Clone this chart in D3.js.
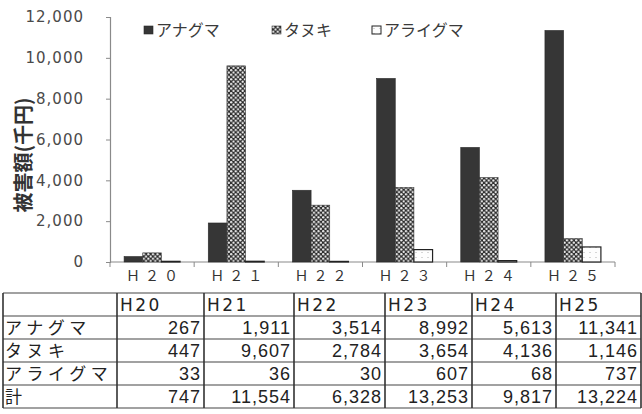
<!DOCTYPE html>
<html>
<head>
<meta charset="utf-8">
<script src="https://cdn.jsdelivr.net/npm/d3@7"></script>
<style>
  html, body { margin: 0; padding: 0; background: #fff; }
  svg { display: block; }
</style>
</head>
<body>
<svg id="chart" width="642" height="414"></svg>
<script>
// 年度
const categories = ["H20", "H21", "H22", "H23", "H24", "H25"];
// 被害額（千円）
const series = ["アナグマ", "タヌキ", "アライグマ"];
const anaguma = [267, 1911, 3514, 8992, 5613, 11341];
const tanuki = [447, 9607, 2784, 3654, 4136, 1146];
const araiguma = [33, 36, 30, 607, 68, 737];
const totals = [747, 11554, 6328, 13253, 9817, 13224];
const yTicks = [0, 2000, 4000, 6000, 8000, 10000, 12000];
const yTitle = "被害額(千円)";
const totalLabel = "計";

const values = [anaguma, tanuki, araiguma];

const svg = d3.select("#chart");
const defs = svg.append("defs");

// タヌキ: 黒地に白い丸の格子模様
const pTan = defs.append("pattern")
  .attr("id", "pat-tanuki").attr("patternUnits", "userSpaceOnUse")
  .attr("width", 4.6).attr("height", 4.6);
pTan.append("rect").attr("width", 4.6).attr("height", 4.6).attr("fill", "#2a2a2a");
[[1.15, 1.15], [3.45, 3.45]].forEach(([cx, cy]) =>
  pTan.append("circle").attr("cx", cx).attr("cy", cy).attr("r", 1.15).attr("fill", "#f4f4f4"));

// アライグマ: 白地に淡い細点
const pAra = defs.append("pattern")
  .attr("id", "pat-araiguma").attr("patternUnits", "userSpaceOnUse")
  .attr("width", 6).attr("height", 5);
pAra.append("rect").attr("width", 6).attr("height", 5).attr("fill", "#fdfdfd");
pAra.append("rect").attr("x", 1).attr("y", 2).attr("width", 2).attr("height", 1).attr("fill", "#d6d6d6");

const fills = ["#363636", "url(#pat-tanuki)", "url(#pat-araiguma)"];
const strokes = ["#2a2a2a", "#3a3a3a", "#222"];

// 作図領域
const x0 = 110, x1 = 615, yTop = 17, yBot = 262;

const x = d3.scaleBand().domain(categories).range([x0, x1])
  .paddingInner(0.335).paddingOuter(0.1675);
const xs = d3.scaleBand().domain(series).range([0, x.bandwidth()]);
const y = d3.scaleLinear().domain([0, 12000]).range([yBot, yTop]);

// 縦軸
const yAxis = d3.axisLeft(y).tickValues(yTicks).tickSize(4).tickPadding(22)
  .tickFormat(d3.format(","));
const gy = svg.append("g").attr("transform", `translate(${x0},0)`).call(yAxis);
gy.select(".domain").attr("stroke", "#8a8a8a").attr("stroke-width", 1.2);
gy.selectAll(".tick line").attr("stroke", "#8a8a8a");
gy.selectAll(".tick text")
  .attr("font-family", "'DejaVu Sans', sans-serif")
  .attr("font-size", 15).attr("letter-spacing", 1)
  .attr("fill", "#4a4a4a");

// 横軸（区切り目盛り）
const bounds = categories.map(c => x(c) - x.step() * x.paddingOuter()).concat([x1]);
svg.append("line").attr("x1", x0).attr("x2", x1).attr("y1", yBot).attr("y2", yBot)
  .attr("stroke", "#8a8a8a").attr("stroke-width", 1.2);
svg.append("g").selectAll("line").data(bounds).join("line")
  .attr("x1", d => d).attr("x2", d => d).attr("y1", yBot).attr("y2", yBot + 5)
  .attr("stroke", "#8a8a8a");

// 全角表記の年度ラベル
const toWide = s => s.replace(/[A-Za-z0-9]/g, ch => String.fromCharCode(ch.charCodeAt(0) + 0xFEE0));
svg.append("g").selectAll("text").data(categories).join("text")
  .attr("x", d => x(d) + x.bandwidth() / 2 + 2.5)
  .attr("y", 281)
  .attr("text-anchor", "middle")
  .attr("font-family", "'Noto Sans CJK JP', sans-serif")
  .attr("font-size", 14).attr("letter-spacing", 5)
  .attr("fill", "#333")
  .text(d => toWide(d));

// 棒
series.forEach((s, si) => {
  svg.append("g").selectAll("rect").data(values[si]).join("rect")
    .attr("x", (d, i) => x(categories[i]) + xs(s))
    .attr("y", d => y(d))
    .attr("width", xs.bandwidth())
    .attr("height", d => yBot - y(d))
    .attr("fill", fills[si])
    .attr("stroke", strokes[si]).attr("stroke-width", si === 2 ? 1.2 : 0.6);
});

// 縦軸タイトル
svg.append("text")
  .attr("transform", "translate(22,155) rotate(-90)")
  .attr("text-anchor", "middle").attr("dominant-baseline", "central")
  .attr("font-family", "'Noto Sans CJK JP', sans-serif")
  .attr("font-size", 20).attr("font-weight", 700)
  .attr("fill", "#333")
  .text(yTitle);

// 凡例
const legendX = [144, 272, 372];
const lg = svg.append("g").selectAll("g").data(series).join("g")
  .attr("transform", (d, i) => `translate(${legendX[i]},26)`);
lg.append("rect").attr("width", 9).attr("height", 8)
  .attr("fill", (d, i) => fills[i]).attr("stroke", (d, i) => strokes[i])
  .attr("stroke-width", (d, i) => i === 2 ? 1 : 0.6);
lg.append("text").attr("x", 12).attr("y", 10)
  .attr("font-family", "'Noto Sans CJK JP', sans-serif")
  .attr("font-size", 16).attr("fill", "#3a3a3a")
  .text(d => d);

// 表
const colEdges = [3, 117, 204, 294, 385, 472, 556, 641];
const rowEdges = [293, 316, 339, 362, 385, 408];
const tbl = svg.append("g");
const rows = [
  { label: "", cells: categories, header: true },
  ...series.map((s, i) => ({ label: s, cells: values[i] })),
  { label: totalLabel, cells: totals }
];
const fmt = d3.format(",");
rows.forEach((r, ri) => {
  const yb = rowEdges[ri + 1] - 5;
  tbl.append("text").attr("x", colEdges[0] + 2).attr("y", yb)
    .attr("font-family", "'Noto Sans CJK JP', sans-serif")
    .attr("font-size", 17).attr("letter-spacing", 4.5).attr("fill", "#222")
    .text(r.label);
  r.cells.forEach((c, ci) => {
    const t = tbl.append("text").attr("y", yb).attr("fill", "#222");
    if (r.header) {
      t.attr("x", colEdges[ci + 1] + 3).attr("text-anchor", "start")
        .attr("font-family", "'DejaVu Sans', sans-serif")
        .attr("font-size", 17).attr("letter-spacing", 2.5).text(c);
    } else {
      t.attr("x", colEdges[ci + 2] - 3).attr("text-anchor", "end")
        .attr("font-family", "'Liberation Sans', Arial, sans-serif")
        .attr("font-size", 18).attr("letter-spacing", 1).text(fmt(c));
    }
  });
});
tbl.selectAll("line.h").data(rowEdges).join("line").attr("class", "h")
  .attr("x1", colEdges[0]).attr("x2", colEdges[colEdges.length - 1])
  .attr("y1", d => d).attr("y2", d => d)
  .attr("stroke", "#444").attr("stroke-width", 1.2);
tbl.selectAll("line.v").data(colEdges).join("line").attr("class", "v")
  .attr("x1", d => d).attr("x2", d => d)
  .attr("y1", rowEdges[0]).attr("y2", rowEdges[rowEdges.length - 1])
  .attr("stroke", "#333").attr("stroke-width", 1.6);
</script>
</body>
</html>
